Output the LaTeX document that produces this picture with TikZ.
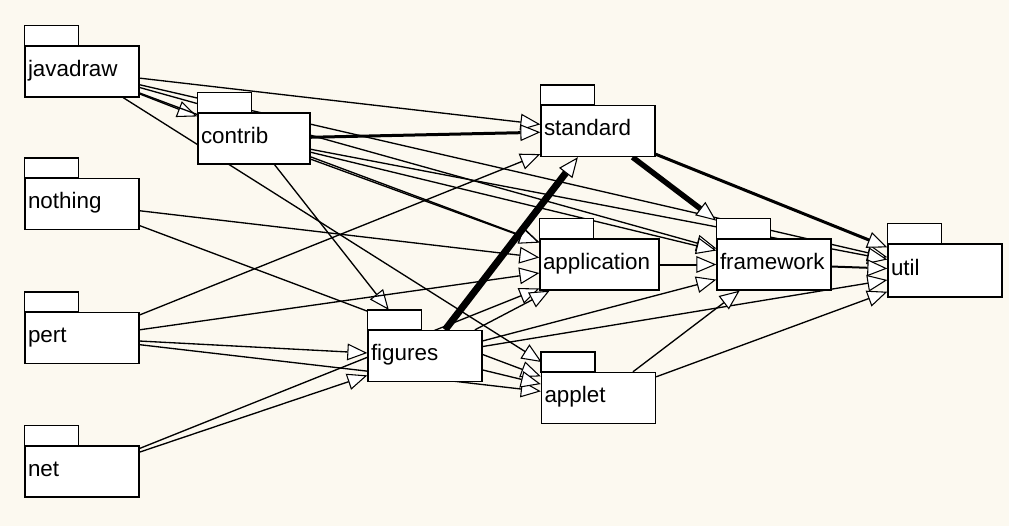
\documentclass[tikz,border=0pt]{standalone}
\usepackage{fontspec}
\setmainfont{Liberation Sans}
\usetikzlibrary{arrows.meta,backgrounds}
\definecolor{paper}{RGB}{252,249,240}

\begin{document}
\begin{tikzpicture}[x=0.75pt,y=-0.75pt,
  pkg/.style={draw=black, fill=white, line width=1pt, rectangle,
    minimum width=85.5pt, minimum height=38.25pt,
    inner xsep=2.25pt, inner ysep=0pt, text width=#1, align=left,
    font=\fontsize{16.8}{19}\selectfont, text height=0.74em, text depth=0.06em},
  pkg/.default=81pt,
  tab/.style={draw=black, fill=white, line width=1pt, rectangle,
    minimum width=40.5pt, minimum height=15pt, inner sep=0pt,
    outer sep=0pt, anchor=south west},
  dep/.style={line width=1pt,
    -{Triangle[length=15pt, width=12.5pt, fill=white, line width=0.8pt]}}
]
% package bodies
\node[pkg] (javadraw) at (82,71.5) {javadraw};
\node[pkg] (nothing) at (82,204) {nothing};
\node[pkg] (pert) at (82,338) {pert};
\node[pkg] (net) at (82,471.5) {net};
\node[pkg=79.5pt, minimum width=84pt] (contrib) at (254,138.5) {contrib};
\node[pkg] (standard) at (598,131) {standard};
\node[pkg=84.75pt, minimum width=89.25pt] (application) at (599.5,264.5) {application};
\node[pkg] (framework) at (774,264.5) {framework};
\node[pkg, minimum height=39.75pt] (util) at (945,270.5) {util};
\node[pkg] (figures) at (425,356) {figures};
\node[pkg] (applet) at (598.5,398) {applet};
% package tabs
\foreach \p in {javadraw,nothing,pert,net,contrib,standard,application,framework,util,figures,applet}
  \node[tab] (\p-tab) at (\p.north west) {};

\begin{pgfonlayer}{background}
\fill[paper] (0,0) rectangle (1009,526);
% javadraw
\draw[dep] (javadraw) -- (contrib);
\draw[dep] (javadraw) -- (standard);
\draw[dep] (javadraw) -- (application);
\draw[dep] (javadraw) -- (framework);
\draw[dep] (javadraw) -- (util);
\draw[dep, shorten >=13.7pt] (javadraw) -- (applet);
% contrib
\draw[dep, line width=2.25pt] (contrib) -- (standard);
\draw[dep] (contrib) -- (application);
\draw[dep] (contrib) -- (framework);
\draw[dep] (contrib) -- (util);
\draw[dep, shorten >=19pt] (contrib) -- (figures);
% nothing
\draw[dep] (nothing) -- (application);
\draw[dep] (nothing) -- (applet);
% pert
\draw[dep] (pert) -- (standard);
\draw[dep] (pert) -- (application);
\draw[dep] (pert) -- (figures);
\draw[dep] (pert) -- (applet);
% net
\draw[dep] (net) -- (figures);
\draw[dep] (net) -- (application);
% figures
\draw[dep, line width=5.25pt] (figures) -- (standard);
\draw[dep] (figures) -- (application);
\draw[dep] (figures) -- (framework);
\draw[dep] (figures) -- (util);
\draw[dep] (figures) -- (applet);
% standard
\draw[dep, line width=4.1pt, shorten >=22pt] (standard) -- (framework);
\draw[dep, line width=2.25pt] (standard) -- (util);
% application, applet, framework
\draw[dep, line width=1.5pt] (application) -- (framework);
\draw[dep] (applet) -- (framework);
\draw[dep] (applet) -- (util);
\draw[dep, line width=1.5pt] (framework) -- (util);
\end{pgfonlayer}
\end{tikzpicture}
\end{document}
